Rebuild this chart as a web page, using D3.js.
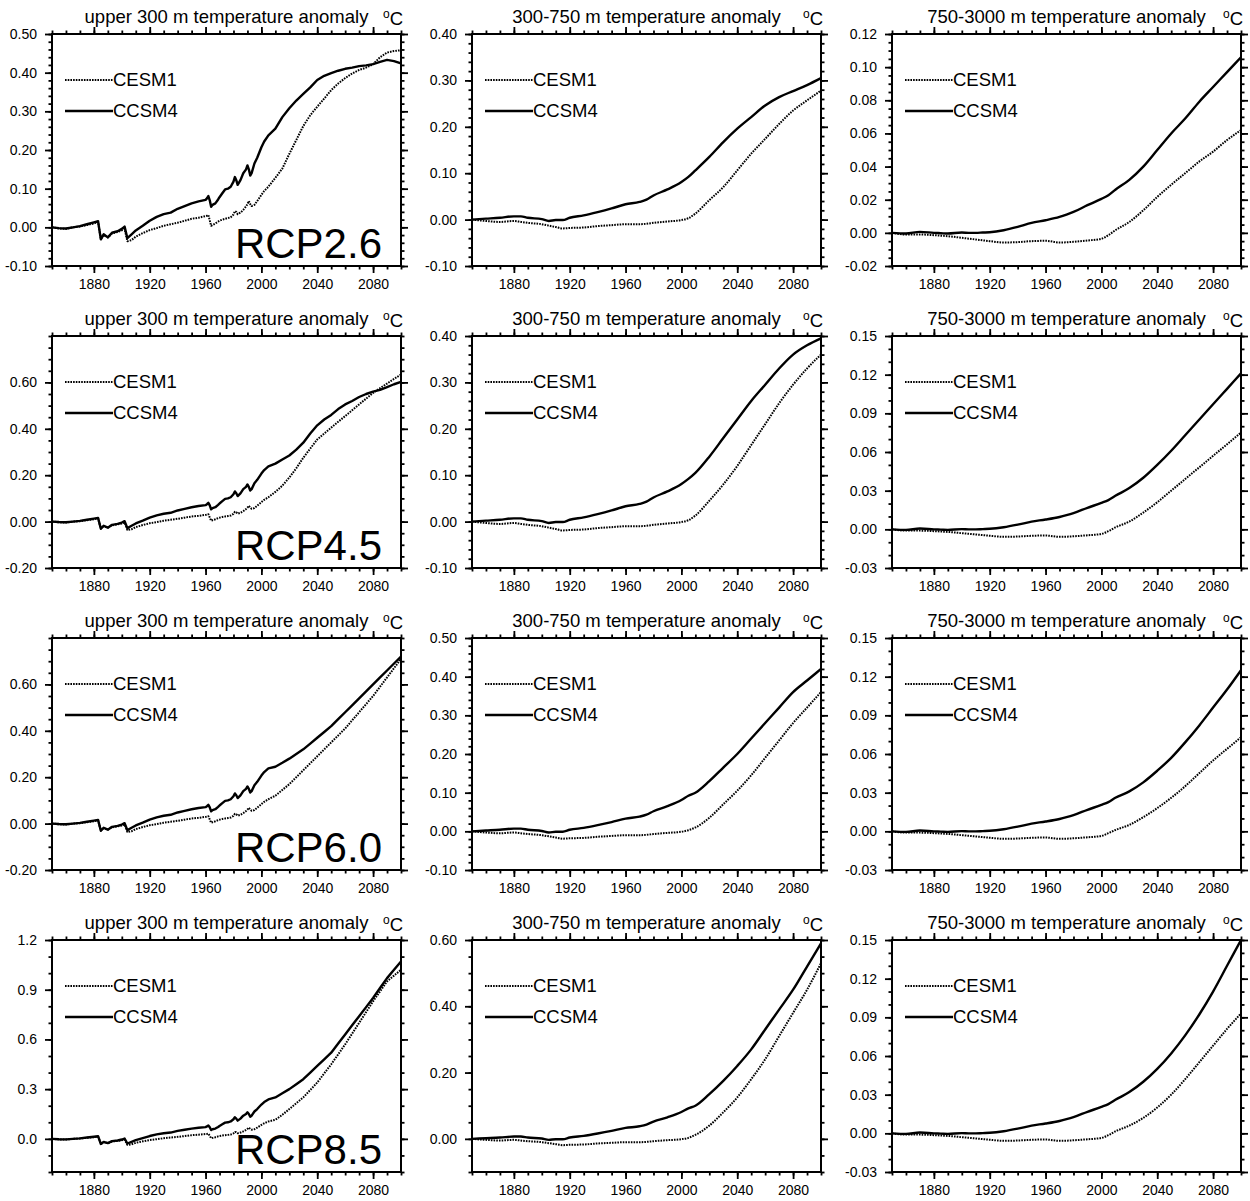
<!DOCTYPE html>
<html>
<head>
<meta charset="utf-8">
<script src="https://cdn.jsdelivr.net/npm/d3@7"></script>
<style>
  body { margin: 0; background: #fff; }
  svg { display: block; }
  text { font-family: "Liberation Sans", Arial, Helvetica, sans-serif; fill: #000; }
</style>
</head>
<body>
<svg id="chart" width="1250" height="1201"></svg>
<script>
// ---------------- data ----------------
// Historical period (shared by every scenario row)
const histYearsUpper = [1850,1855,1860,1865,1870,1875,1880,1883,1885,1887,1890,1893,1897,1900,1902,1904,1907,1910,1915,1920,1925,1930,1935,1940,1945,1950,1955,1960,1961,1962,1963,1964,1965,1967,1969,1970,1972,1974,1976,1978,1980,1981,1982,1983,1985,1987,1989,1990,1991,1992,1993,1995,1997,2000,2002,2005];
const ccsm4HistUpper = [0.000,-0.002,-0.003,0.000,0.003,0.008,0.013,0.016,-0.031,-0.018,-0.026,-0.014,-0.010,-0.004,0.002,-0.028,-0.018,-0.008,0.004,0.017,0.027,0.034,0.038,0.048,0.055,0.062,0.067,0.071,0.075,0.081,0.070,0.053,0.058,0.062,0.072,0.078,0.088,0.098,0.100,0.105,0.118,0.130,0.122,0.110,0.122,0.140,0.150,0.160,0.150,0.134,0.140,0.165,0.180,0.207,0.222,0.238];
const cesm1HistUpper = [0.000,-0.003,-0.004,0.000,0.002,0.006,0.010,0.014,-0.030,-0.020,-0.026,-0.016,-0.012,-0.008,-0.004,-0.036,-0.033,-0.024,-0.015,-0.007,-0.002,0.004,0.008,0.012,0.017,0.022,0.025,0.029,0.030,0.032,0.018,0.004,0.006,0.010,0.015,0.017,0.020,0.022,0.024,0.026,0.033,0.042,0.040,0.034,0.038,0.045,0.054,0.060,0.068,0.060,0.055,0.058,0.068,0.084,0.094,0.105];

const histYearsDeep = [1850,1860,1870,1880,1885,1890,1900,1905,1910,1915,1920,1930,1940,1950,1960,1970,1975,1980,1990,2000,2005];
const ccsm4HistMid = [0.000,0.002,0.004,0.007,0.007,0.004,0.001,-0.003,-0.001,-0.001,0.004,0.009,0.016,0.024,0.033,0.038,0.043,0.052,0.065,0.081,0.092];
const cesm1HistMid = [0.000,-0.003,-0.005,-0.003,-0.005,-0.007,-0.010,-0.013,-0.016,-0.019,-0.018,-0.017,-0.014,-0.012,-0.010,-0.010,-0.009,-0.007,-0.004,-0.001,0.003];
const ccsm4HistDeep = [0.0000,-0.0004,0.0006,0.0000,-0.0002,-0.0004,0.0002,0.0000,0.0000,0.0002,0.0004,0.0016,0.0036,0.0060,0.0076,0.0096,0.0110,0.0126,0.0167,0.0205,0.0227];
const cesm1HistDeep = [0.0000,-0.0010,-0.0010,-0.0014,-0.0017,-0.0020,-0.0030,-0.0035,-0.0040,-0.0045,-0.0050,-0.0058,-0.0056,-0.0050,-0.0048,-0.0058,-0.0057,-0.0054,-0.0046,-0.0036,-0.0014];

// Scenario period
const futYearsUpper = [2010,2015,2020,2025,2030,2035,2040,2045,2050,2055,2060,2065,2070,2075,2080,2085,2090,2095,2100];
const futYears = [2010,2020,2030,2040,2050,2060,2070,2080,2090,2100];

// upper 300 m (5-year steps)
const ccsm4Upper26 = [0.255,0.285,0.308,0.328,0.345,0.362,0.381,0.392,0.399,0.405,0.410,0.413,0.417,0.419,0.422,0.428,0.433,0.430,0.424];
const cesm1Upper26 = [0.128,0.152,0.190,0.226,0.262,0.290,0.312,0.333,0.355,0.372,0.386,0.398,0.407,0.413,0.422,0.440,0.452,0.456,0.458];
const ccsm4Upper45 = [0.250,0.268,0.285,0.310,0.340,0.380,0.415,0.440,0.460,0.485,0.505,0.520,0.537,0.550,0.560,0.568,0.580,0.592,0.602];
const cesm1Upper45 = [0.128,0.155,0.190,0.230,0.275,0.315,0.354,0.380,0.405,0.430,0.455,0.480,0.505,0.530,0.555,0.575,0.595,0.615,0.634];
const ccsm4Upper60 = [0.245,0.262,0.280,0.300,0.320,0.345,0.370,0.395,0.420,0.450,0.480,0.510,0.540,0.570,0.600,0.630,0.660,0.690,0.720];
const cesm1Upper60 = [0.120,0.145,0.170,0.200,0.230,0.260,0.290,0.320,0.350,0.380,0.410,0.445,0.480,0.515,0.550,0.590,0.630,0.670,0.710];
const ccsm4Upper85 = [0.250,0.275,0.300,0.330,0.360,0.400,0.440,0.480,0.520,0.575,0.630,0.685,0.740,0.795,0.850,0.910,0.970,1.020,1.070];
const cesm1Upper85 = [0.115,0.145,0.180,0.215,0.250,0.295,0.340,0.395,0.450,0.510,0.570,0.635,0.700,0.765,0.830,0.890,0.950,0.985,1.020];

// 300-750 m (10-year steps)
const ccsm4Mid26 = [0.106,0.135,0.167,0.196,0.221,0.246,0.264,0.277,0.290,0.305];
const cesm1Mid26 = [0.013,0.042,0.070,0.106,0.142,0.174,0.206,0.235,0.257,0.278];
const ccsm4Mid45 = [0.105,0.140,0.180,0.220,0.260,0.295,0.330,0.360,0.380,0.395];
const cesm1Mid45 = [0.013,0.045,0.080,0.120,0.165,0.210,0.255,0.295,0.330,0.360];
const ccsm4Mid60 = [0.100,0.130,0.165,0.200,0.240,0.280,0.320,0.360,0.390,0.420];
const cesm1Mid60 = [0.010,0.035,0.070,0.105,0.145,0.190,0.235,0.280,0.320,0.360];
const ccsm4Mid85 = [0.100,0.135,0.175,0.220,0.270,0.330,0.390,0.450,0.520,0.590];
const cesm1Mid85 = [0.012,0.040,0.080,0.125,0.180,0.240,0.310,0.380,0.450,0.530];

// 750-3000 m (10-year steps)
const ccsm4Deep26 = [0.026,0.032,0.040,0.050,0.060,0.069,0.079,0.088,0.097,0.106];
const cesm1Deep26 = [0.0016,0.0066,0.0136,0.0217,0.0290,0.0360,0.0430,0.0490,0.0560,0.0620];
const ccsm4Deep45 = [0.026,0.032,0.040,0.050,0.061,0.073,0.085,0.097,0.109,0.121];
const cesm1Deep45 = [0.0015,0.006,0.013,0.021,0.030,0.039,0.048,0.057,0.066,0.075];
const ccsm4Deep60 = [0.026,0.031,0.038,0.047,0.057,0.069,0.082,0.096,0.110,0.125];
const cesm1Deep60 = [0.001,0.005,0.011,0.018,0.026,0.035,0.045,0.055,0.064,0.073];
const ccsm4Deep85 = [0.026,0.032,0.040,0.050,0.062,0.076,0.092,0.110,0.130,0.150];
const cesm1Deep85 = [0.0015,0.006,0.012,0.020,0.030,0.042,0.055,0.068,0.081,0.093];

// labels
const scenarios = ["RCP2.6", "RCP4.5", "RCP6.0", "RCP8.5"];
const layerTitles = ["upper 300 m temperature anomaly", "300-750 m temperature anomaly", "750-3000 m temperature anomaly"];
const modelNames = ["CESM1", "CCSM4"];
const yearTicks = [1880, 1920, 1960, 2000, 2040, 2080];
const yearMinor = d3.range(1850, 2101, 10);

// y axes: [min, max, major ticks, minor step, label format]
const axesUpper = [
  [-0.1, 0.5, [-0.1,0,0.1,0.2,0.3,0.4,0.5], 0.02, ".2f"],
  [-0.2, 0.8, [-0.2,0,0.2,0.4,0.6], 0.05, ".2f"],
  [-0.2, 0.8, [-0.2,0,0.2,0.4,0.6], 0.05, ".2f"],
  [-0.2, 1.2, [0,0.3,0.6,0.9,1.2], 0.1, ".1f"]
];
const axesMid = [
  [-0.1, 0.4, [-0.1,0,0.1,0.2,0.3,0.4], 0.02, ".2f"],
  [-0.1, 0.4, [-0.1,0,0.1,0.2,0.3,0.4], 0.02, ".2f"],
  [-0.1, 0.5, [-0.1,0,0.1,0.2,0.3,0.4,0.5], 0.02, ".2f"],
  [-0.1, 0.6, [0,0.2,0.4,0.6], 0.05, ".2f"]
];
const axesDeep = [
  [-0.02, 0.12, [-0.02,0,0.02,0.04,0.06,0.08,0.1,0.12], 0.005, ".2f"],
  [-0.03, 0.15, [-0.03,0,0.03,0.06,0.09,0.12,0.15], 0.01, ".2f"],
  [-0.03, 0.15, [-0.03,0,0.03,0.06,0.09,0.12,0.15], 0.01, ".2f"],
  [-0.03, 0.15, [-0.03,0,0.03,0.06,0.09,0.12,0.15], 0.01, ".2f"]
];

// ---------------- assemble series ----------------
function series(hy, hv, fy, fv) {
  return hy.map((yr, i) => [yr, hv[i]]).concat(fy.map((yr, i) => [yr, fv[i]]));
}
const futUpper = [[cesm1Upper26, ccsm4Upper26], [cesm1Upper45, ccsm4Upper45], [cesm1Upper60, ccsm4Upper60], [cesm1Upper85, ccsm4Upper85]];
const futMid = [[cesm1Mid26, ccsm4Mid26], [cesm1Mid45, ccsm4Mid45], [cesm1Mid60, ccsm4Mid60], [cesm1Mid85, ccsm4Mid85]];
const futDeep = [[cesm1Deep26, ccsm4Deep26], [cesm1Deep45, ccsm4Deep45], [cesm1Deep60, ccsm4Deep60], [cesm1Deep85, ccsm4Deep85]];

const columns = [
  { hy: histYearsUpper, hist: [cesm1HistUpper, ccsm4HistUpper], fy: futYearsUpper, fut: futUpper, axes: axesUpper, curve: d3.curveLinear },
  { hy: histYearsDeep, hist: [cesm1HistMid, ccsm4HistMid], fy: futYears, fut: futMid, axes: axesMid, curve: d3.curveMonotoneX },
  { hy: histYearsDeep, hist: [cesm1HistDeep, ccsm4HistDeep], fy: futYears, fut: futDeep, axes: axesDeep, curve: d3.curveMonotoneX }
];

// ---------------- layout ----------------
const colLeft = [52, 472, 892];
const rowTop = [34, 336, 638, 940];
const W = 349, H = 232;
const majorLen = 7, minorLen = 3.5;

const svg = d3.select("#chart");
const x = d3.scaleLinear().domain([1850, 2100]).range([0, W]);
const lineStyles = [
  { width: 2.0, dash: "1.6,1.1" },   // CESM1 dotted
  { width: 2.4, dash: null }         // CCSM4 solid
];

function styleAxis(sel) {
  sel.select(".domain").remove();
  sel.selectAll(".tick line").attr("stroke", "#000").attr("stroke-width", 1.8);
  sel.selectAll(".tick text").attr("font-size", 14).attr("font-family", "'Liberation Sans', Arial, sans-serif").attr("fill", "#000");
}
const hyphenFmt = f => { const fn = d3.format(f); return d => fn(d).replace("\u2212", "-"); };

scenarios.forEach((scen, r) => {
  columns.forEach((col, c) => {
    const [y0, y1, yMajor, yMinorStep, fmt] = col.axes[r];
    const y = d3.scaleLinear().domain([y0, y1]).range([H, 0]);
    const yMinor = d3.range(Math.round(y0 / yMinorStep), Math.round(y1 / yMinorStep) + 1).map(k => k * yMinorStep);
    const g = svg.append("g").attr("transform", `translate(${colLeft[c]},${rowTop[r]})`);

    // minor ticks on all four sides
    g.append("g").attr("transform", `translate(0,${H})`)
      .call(d3.axisBottom(x).tickValues(yearMinor).tickSize(minorLen).tickFormat("")).call(styleAxis);
    g.append("g").call(d3.axisTop(x).tickValues(yearMinor).tickSize(minorLen).tickFormat("")).call(styleAxis);
    g.append("g").call(d3.axisLeft(y).tickValues(yMinor).tickSize(minorLen).tickFormat("")).call(styleAxis);
    g.append("g").attr("transform", `translate(${W},0)`)
      .call(d3.axisRight(y).tickValues(yMinor).tickSize(minorLen).tickFormat("")).call(styleAxis);

    // major ticks with labels on bottom and left
    g.append("g").attr("transform", `translate(0,${H})`)
      .call(d3.axisBottom(x).tickValues(yearTicks).tickSize(majorLen).tickPadding(6).tickFormat(d3.format("d"))).call(styleAxis);
    g.append("g").call(d3.axisTop(x).tickValues(yearTicks).tickSize(majorLen).tickFormat("")).call(styleAxis);
    g.append("g").call(d3.axisLeft(y).tickValues(yMajor).tickSize(majorLen).tickPadding(8).tickFormat(hyphenFmt(fmt))).call(styleAxis);
    g.append("g").attr("transform", `translate(${W},0)`)
      .call(d3.axisRight(y).tickValues(yMajor).tickSize(majorLen).tickFormat("")).call(styleAxis);

    // data lines
    const line = d3.line().x(d => x(d[0])).y(d => y(d[1])).curve(col.curve);
    col.hist.forEach((hv, m) => {
      const data = series(col.hy, hv, col.fy, col.fut[r][m]);
      g.append("path").datum(data)
        .attr("d", line)
        .attr("fill", "none")
        .attr("stroke", "#000")
        .attr("stroke-width", lineStyles[m].width)
        .attr("stroke-dasharray", lineStyles[m].dash)
        .attr("stroke-linejoin", "round");
    });

    // frame
    g.append("rect").attr("width", W).attr("height", H)
      .attr("fill", "none").attr("stroke", "#000").attr("stroke-width", 2);

    // legend
    modelNames.forEach((name, m) => {
      const ly = 46 + m * 31;
      g.append("line").attr("x1", 13).attr("x2", 61).attr("y1", ly).attr("y2", ly)
        .attr("stroke", "#000").attr("stroke-width", lineStyles[m].width)
        .attr("stroke-dasharray", lineStyles[m].dash);
      g.append("text").attr("x", 61).attr("y", ly).attr("dy", "0.35em")
        .attr("font-size", 18.5).text(name);
    });

    // titles
    g.append("text").attr("x", W / 2).attr("y", -11).attr("text-anchor", "middle")
      .attr("font-size", 18.5).text(layerTitles[c]);
    const unit = g.append("text").attr("x", W + 2).attr("y", -9).attr("text-anchor", "end").attr("font-size", 18.5);
    unit.append("tspan").attr("font-size", 12).attr("dy", -7).text("o");
    unit.append("tspan").attr("dy", 7).text("C");

    // scenario label in the first column
    if (c === 0) {
      g.append("text").attr("x", W - 19).attr("y", H - 8).attr("text-anchor", "end")
        .attr("font-size", 42).text(scen);
    }
  });
});
</script>
</body>
</html>
